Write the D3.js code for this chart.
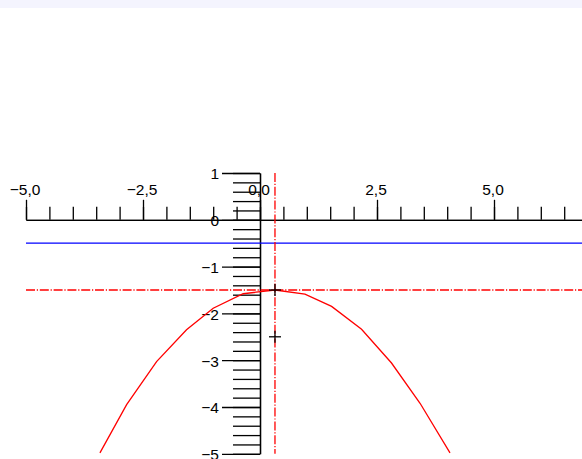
<!DOCTYPE html>
<html>
<head>
<meta charset="utf-8">
<script src="https://cdn.jsdelivr.net/npm/d3@7"></script>
<style>
  html, body { margin: 0; padding: 0; background: #fff; }
  svg { display: block; }
  text { font-family: "Liberation Sans", Arial, sans-serif; }
</style>
</head>
<body>
<script>
// ---- data ----
const curveX = [-3.42, -2.85, -2.21, -1.57, -1.0, -0.36, 0.32, 0.96, 1.53, 2.17, 2.81, 3.42, 4.06];
const curveY = [-4.98, -3.95, -3.03, -2.35, -1.89, -1.58, -1.5, -1.59, -1.85, -2.34, -3.06, -3.92, -4.98];
const blueLineY = -0.5;
const redLineY = -1.5;
const redLineX = 0.32;
const markerX = [0.32, 0.32];
const markerY = [-1.5, -2.5];
const xMajorTicks = [-5, -2.5, 0, 2.5, 5];
const xTickLabels = ["\u22125,0", "\u22122,5", "0,0", "2,5", "5,0"];
const xMinorTicks = d3.range(-5, 6.51, 0.5);
const yMajorTicks = [1, 0, -1, -2, -3, -4, -5];
const yTickLabels = ["1", "0", "\u22121", "\u22122", "\u22123", "\u22124", "\u22125"];
const yMinorTicks = d3.range(-5, 1.001, 0.2);

// ---- layout ----
const W = 582, H = 459;
const unit = 46.8;
const x0 = 26, y0 = 173;
const x = d3.scaleLinear().domain([-5, -5 + (W - x0) / unit]).range([x0, W]);
const y = d3.scaleLinear().domain([1, -5]).range([y0, y0 + 6 * unit]);

const svg = d3.select("body").append("svg").attr("width", W).attr("height", H);

svg.append("rect").attr("x", 0).attr("y", 0).attr("width", W).attr("height", 8).attr("fill", "#f4f4fe");

const axisColor = "#000";
const sw = 1.3;
const fs = 15.5;

// X axis (ticks upward) located at y=0
const gx = svg.append("g").attr("transform", `translate(0,${y(0)})`);
gx.append("g").call(d3.axisTop(x).tickValues(xMinorTicks).tickSize(13).tickSizeOuter(0).tickFormat(""));
gx.append("g").call(d3.axisTop(x).tickValues(xMajorTicks).tickSize(20).tickSizeOuter(0).tickPadding(5)
  .tickFormat((d, i) => xTickLabels[i]));
gx.selectAll("text").attr("font-size", fs).attr("dx", -1.5).attr("fill", "#000");

// Y axis (ticks leftward) located at x=0
const gy = svg.append("g").attr("transform", `translate(${x(0)},0)`);
gy.append("g").call(d3.axisLeft(y).tickValues(yMinorTicks).tickSize(27).tickSizeOuter(0).tickFormat(""));
gy.append("g").call(d3.axisLeft(y).tickValues(yMajorTicks).tickSize(38).tickSizeOuter(0).tickPadding(3)
  .tickFormat((d, i) => yTickLabels[i]));
gy.selectAll("text").attr("font-size", fs).attr("dy", "0.38em").attr("fill", "#000");

svg.selectAll(".domain, .tick line").attr("stroke", axisColor).attr("stroke-width", sw);
svg.selectAll("text").attr("font-family", "'Liberation Sans', Arial, sans-serif");

// Blue horizontal line
svg.append("line").attr("x1", x.range()[0]).attr("x2", x.range()[1])
  .attr("y1", y(blueLineY)).attr("y2", y(blueLineY))
  .attr("stroke", "#0000ff").attr("stroke-width", 1.3);

// Red dash-dot lines
const dash = "9,1.8,1.2,1.8";
svg.append("line").attr("x1", x.range()[0]).attr("x2", x.range()[1])
  .attr("y1", y(redLineY)).attr("y2", y(redLineY))
  .attr("stroke", "#ff0000").attr("stroke-width", 1.3).attr("stroke-dasharray", dash);
svg.append("line").attr("x1", x(redLineX)).attr("x2", x(redLineX))
  .attr("y1", y(1)).attr("y2", y(-5))
  .attr("stroke", "#ff0000").attr("stroke-width", 1.3).attr("stroke-dasharray", dash);

// Curve
const pts = curveX.map((v, i) => [v, curveY[i]]);
svg.append("path").datum(pts)
  .attr("d", d3.line().x(d => x(d[0])).y(d => y(d[1])))
  .attr("fill", "none").attr("stroke", "#ff0000").attr("stroke-width", 1.3);

// Markers (+)
markerX.forEach((mx, i) => {
  const cx = x(mx), cy = y(markerY[i]);
  const g = svg.append("g");
  g.append("line").attr("x1", cx - 6).attr("x2", cx + 6).attr("y1", cy).attr("y2", cy)
    .attr("stroke", "#000").attr("stroke-width", 1.3);
  g.append("line").attr("x1", cx).attr("x2", cx).attr("y1", cy - 6).attr("y2", cy + 6)
    .attr("stroke", "#000").attr("stroke-width", 1.3);
});
</script>
</body>
</html>
